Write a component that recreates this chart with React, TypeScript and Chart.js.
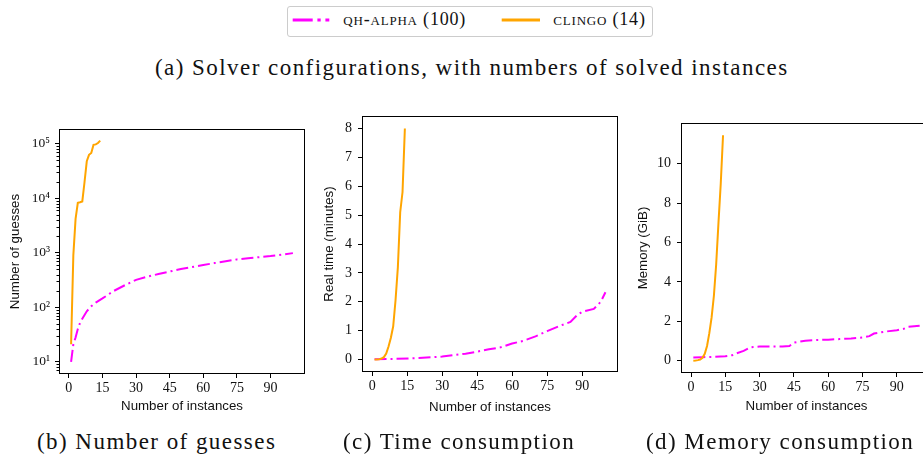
import React, { useEffect, useRef } from 'react';
import { Chart, registerables } from 'chart.js';
Chart.register(...registerables);

// ---------- data ----------
const X_TICKS = [0, 15, 30, 45, 60, 75, 90];
const X_MIN = -3.95;
const X_MAX = 104.95;

// (b) Number of guesses (log scale)
const GUESS_TICKS = [10, 100, 1000, 10000, 100000];
const GUESS_TICK_LABELS = ['10¹', '10²', '10³', '10⁴', '10⁵'];
const GUESS_QH_X = [1, 2, 3, 4, 5, 6, 8, 10, 12, 15, 20, 25, 30, 35, 40, 45, 50, 55, 60, 65, 70, 75, 80, 85, 90, 95, 100];
const GUESS_QH_Y = [10, 21, 28, 40, 52, 62, 85, 105, 122, 146, 200, 255, 320, 365, 410, 455, 505, 550, 600, 650, 705, 760, 800, 835, 875, 930, 990];
const GUESS_CL_X = [1, 2, 3, 4, 5, 6, 7, 8, 9, 10, 11, 12, 13, 14];
const GUESS_CL_Y = [21, 900, 4200, 8300, 8500, 8800, 20000, 48000, 63000, 68000, 96000, 98000, 104000, 115000];

// (c) Time consumption (minutes)
const TIME_TICKS = [0, 1, 2, 3, 4, 5, 6, 7, 8];
const TIME_QH_X = [1, 10, 20, 30, 40, 45, 50, 55, 60, 65, 70, 75, 80, 85, 88, 90, 95, 98, 100];
const TIME_QH_Y = [0.01, 0.02, 0.05, 0.1, 0.2, 0.27, 0.35, 0.42, 0.55, 0.65, 0.8, 0.98, 1.15, 1.3, 1.55, 1.65, 1.75, 2.0, 2.33];
const TIME_CL_X = [1, 2, 3, 4, 5, 6, 7, 8, 9, 10, 11, 12, 13, 14];
const TIME_CL_Y = [0.0, 0.0, 0.01, 0.03, 0.08, 0.2, 0.45, 0.75, 1.15, 2.05, 3.2, 5.1, 5.8, 8.0];

// (d) Memory consumption (GiB)
const MEM_TICKS = [0, 2, 4, 6, 8, 10];
const MEM_QH_X = [1, 5, 10, 15, 18, 20, 23, 26, 30, 35, 40, 43, 45, 50, 55, 60, 65, 70, 75, 78, 80, 85, 90, 93, 95, 100];
const MEM_QH_Y = [0.17, 0.18, 0.2, 0.23, 0.28, 0.38, 0.5, 0.68, 0.72, 0.72, 0.72, 0.75, 0.92, 1.02, 1.05, 1.07, 1.1, 1.13, 1.18, 1.25, 1.38, 1.48, 1.55, 1.62, 1.72, 1.78];
const MEM_CL_X = [1, 2, 3, 4, 5, 6, 7, 8, 9, 10, 11, 12, 13, 14];
const MEM_CL_Y = [0.0, 0.01, 0.03, 0.06, 0.15, 0.35, 0.75, 1.4, 2.2, 3.3, 4.9, 7.0, 9.0, 11.45];

const SERIES_NAMES = ['qh-alpha', 'clingo'];
const SERIES_COUNTS = [100, 14];
const MAGENTA = '#ff00ff';
const ORANGE = '#ffa500';

const SERIF = '"Liberation Serif", "Times New Roman", serif';
const SANS = '"Liberation Sans", Arial, sans-serif';
const TEXT = '#111';

type Spec = {
  canvas: { x: number; y: number; w: number; h: number };
  area: { l: number; t: number; r: number; b: number };
  yTitleX: number;
  xTitleY: number;
  yTitle: string;
  log: boolean;
  yMin: number;
  yMax: number;
  yTicks: number[];
  yLabels?: string[];
  qhX: number[];
  qhY: number[];
  clX: number[];
  clY: number[];
};

const framePlugin = {
  id: 'frameTicks',
  afterDraw(chart: any) {
    const { ctx, chartArea: a, scales } = chart;
    ctx.save();
    ctx.strokeStyle = '#000';
    ctx.lineWidth = 1;
    const l = Math.round(a.left) - 0.5;
    const t = Math.round(a.top) - 0.5;
    const r = Math.round(a.right) + 0.5;
    const b = Math.round(a.bottom) + 0.5;
    ctx.strokeRect(l, t, r - l, b - t);
    const ys = scales.y;
    if (ys.type === 'logarithmic') {
      for (let e = 0; e <= 5; e++) {
        for (let k = 2; k <= 9; k++) {
          const v = k * Math.pow(10, e);
          if (v < ys.min || v > ys.max) continue;
          const py = Math.round(ys.getPixelForValue(v)) + 0.5;
          ctx.beginPath();
          ctx.moveTo(l - 3, py);
          ctx.lineTo(l, py);
          ctx.stroke();
        }
      }
    }
    ctx.restore();
  },
};

const TITLE_SIZE = 13.3;
const TITLE_LH = TITLE_SIZE * 1.2;

function makeConfig(s: Spec): any {
  const wy = s.area.l - s.canvas.x;
  const hx = s.canvas.y + s.canvas.h - s.area.b;
  const yPadTop = s.yTitleX - s.canvas.x - TITLE_LH / 2;
  const xPadBottom = s.canvas.y + s.canvas.h - s.xTitleY - TITLE_LH / 2;
  return {
    type: 'line',
    data: {
      datasets: [
        {
          label: SERIES_NAMES[0],
          data: s.qhX.map((x, i) => ({ x, y: s.qhY[i] })),
          borderColor: MAGENTA,
          borderWidth: 2,
          borderDash: [12, 4, 2, 4],
          pointRadius: 0,
          fill: false,
          tension: 0,
          order: 1,
        },
        {
          label: SERIES_NAMES[1],
          data: s.clX.map((x, i) => ({ x, y: s.clY[i] })),
          borderColor: ORANGE,
          borderWidth: 2,
          pointRadius: 0,
          fill: false,
          tension: 0,
          order: 0,
        },
      ],
    },
    options: {
      responsive: false,
      animation: false,
      events: [],
      layout: {
        padding: {
          left: 0,
          bottom: 0,
          top: s.area.t - s.canvas.y,
          right: s.canvas.x + s.canvas.w - s.area.r,
        },
      },
      plugins: { legend: { display: false }, tooltip: { enabled: false } },
      scales: {
        x: {
          type: 'linear',
          min: X_MIN,
          max: X_MAX,
          afterBuildTicks: (sc: any) => {
            sc.ticks = X_TICKS.map((v) => ({ value: v }));
          },
          afterFit: (sc: any) => {
            sc.height = hx;
          },
          grid: { drawOnChartArea: false, drawTicks: true, tickLength: 5, color: '#000', lineWidth: 1 },
          border: { display: false },
          ticks: {
            font: { family: SERIF, size: 14 },
            color: TEXT,
            padding: 2,
            maxRotation: 0,
            autoSkip: false,
            callback: (v: any) => String(v),
          },
          title: {
            display: true,
            text: 'Number of instances',
            font: { family: SANS, size: TITLE_SIZE },
            color: TEXT,
            padding: { top: 0, bottom: xPadBottom },
          },
        },
        y: {
          type: s.log ? 'logarithmic' : 'linear',
          min: s.yMin,
          max: s.yMax,
          afterBuildTicks: (sc: any) => {
            sc.ticks = s.yTicks.map((v) => ({ value: v }));
          },
          afterFit: (sc: any) => {
            sc.width = wy;
          },
          grid: { drawOnChartArea: false, drawTicks: true, tickLength: 5, color: '#000', lineWidth: 1 },
          border: { display: false },
          ticks: {
            font: { family: SERIF, size: s.log ? 13.5 : 14 },
            color: TEXT,
            padding: s.log ? 5 : 6,
            autoSkip: false,
            callback: (v: any, i: number) => (s.yLabels ? s.yLabels[i] : String(v)),
          },
          title: {
            display: true,
            text: s.yTitle,
            font: { family: SANS, size: TITLE_SIZE },
            color: TEXT,
            padding: { top: yPadTop, bottom: 0 },
          },
        },
      },
    },
    plugins: [framePlugin],
  };
}

const SPECS: Spec[] = [
  {
    canvas: { x: 0, y: 100, w: 320, h: 320 },
    area: { l: 60, t: 130, r: 304, b: 373 },
    yTitleX: 15,
    xTitleY: 406.7,
    yTitle: 'Number of guesses',
    log: true,
    yMin: 6.25,
    yMax: 180000,
    yTicks: GUESS_TICKS,
    yLabels: GUESS_TICK_LABELS,
    qhX: GUESS_QH_X,
    qhY: GUESS_QH_Y,
    clX: GUESS_CL_X,
    clY: GUESS_CL_Y,
  },
  {
    canvas: { x: 318, y: 100, w: 315, h: 320 },
    area: { l: 363, t: 117, r: 617, b: 371 },
    yTitleX: 329.3,
    xTitleY: 407.3,
    yTitle: 'Real time (minutes)',
    log: false,
    yMin: -0.4,
    yMax: 8.4,
    yTicks: TIME_TICKS,
    qhX: TIME_QH_X,
    qhY: TIME_QH_Y,
    clX: TIME_CL_X,
    clY: TIME_CL_Y,
  },
  {
    canvas: { x: 635, y: 100, w: 306, h: 320 },
    area: { l: 682, t: 124, r: 931, b: 372 },
    yTitleX: 643.3,
    xTitleY: 406.7,
    yTitle: 'Memory (GiB)',
    log: false,
    yMin: -0.5725,
    yMax: 12.0225,
    yTicks: MEM_TICKS,
    qhX: MEM_QH_X,
    qhY: MEM_QH_Y,
    clX: MEM_CL_X,
    clY: MEM_CL_Y,
  },
];

function Plot({ spec }: { spec: Spec }) {
  const ref = useRef<HTMLCanvasElement | null>(null);
  useEffect(() => {
    if (!ref.current) return;
    const chart = new Chart(ref.current, makeConfig(spec));
    return () => chart.destroy();
  }, [spec]);
  return (
    <canvas
      ref={ref}
      width={spec.canvas.w}
      height={spec.canvas.h}
      style={{
        position: 'absolute',
        left: spec.canvas.x,
        top: spec.canvas.y,
        width: spec.canvas.w,
        height: spec.canvas.h,
      }}
    />
  );
}

const CAP_SIZE = 23;
const CAP_SPACING = 1.45;
const LEG_SIZE = 18;
const LEG_SPACING = 0.8;

function Text({ x, baseline, size, spacing, children, smallCaps }: any) {
  return (
    <div
      style={{
        position: 'absolute',
        left: x,
        top: baseline - 0.8375 * size,
        fontFamily: SERIF,
        fontSize: size,
        lineHeight: 1,
        letterSpacing: spacing || 0,
        whiteSpace: 'nowrap',
        color: TEXT,
        fontVariant: smallCaps ? 'small-caps' : 'normal',
      }}
    >
      {children}
    </div>
  );
}

export default function App() {
  return (
    <div
      style={{
        position: 'fixed',
        left: 0,
        top: 0,
        width: 923,
        height: 455,
        overflow: 'hidden',
        background: '#fff',
      }}
    >
      {/* legend */}
      <div
        style={{
          position: 'absolute',
          left: 287,
          top: 6,
          width: 364,
          height: 29,
          border: '1px solid #cccccc',
          borderRadius: 3,
        }}
      />
      <svg style={{ position: 'absolute', left: 0, top: 0 }} width={923} height={40}>
        <line x1={292.7} y1={20} x2={329.3} y2={20} stroke={MAGENTA} strokeWidth={3} strokeDasharray="20 4.7 3.3 4.7" />
        <line x1={501.7} y1={20} x2={540} y2={20} stroke={ORANGE} strokeWidth={3} />
      </svg>
      <Text x={343.3} baseline={25.3} size={LEG_SIZE} spacing={LEG_SPACING} smallCaps>
        {SERIES_NAMES[0]} ({SERIES_COUNTS[0]})
      </Text>
      <Text x={553.3} baseline={25.3} size={LEG_SIZE} spacing={LEG_SPACING} smallCaps>
        {SERIES_NAMES[1]} ({SERIES_COUNTS[1]})
      </Text>

      <Text x={155} baseline={75} size={CAP_SIZE} spacing={CAP_SPACING}>
        (a) Solver configurations, with numbers of solved instances
      </Text>

      {SPECS.map((s, i) => (
        <Plot key={i} spec={s} />
      ))}

      <Text x={37} baseline={449.3} size={CAP_SIZE} spacing={CAP_SPACING}>
        (b) Number of guesses
      </Text>
      <Text x={343} baseline={449.3} size={CAP_SIZE} spacing={CAP_SPACING}>
        (c) Time consumption
      </Text>
      <Text x={646} baseline={449.3} size={CAP_SIZE} spacing={CAP_SPACING}>
        (d) Memory consumption
      </Text>
    </div>
  );
}
